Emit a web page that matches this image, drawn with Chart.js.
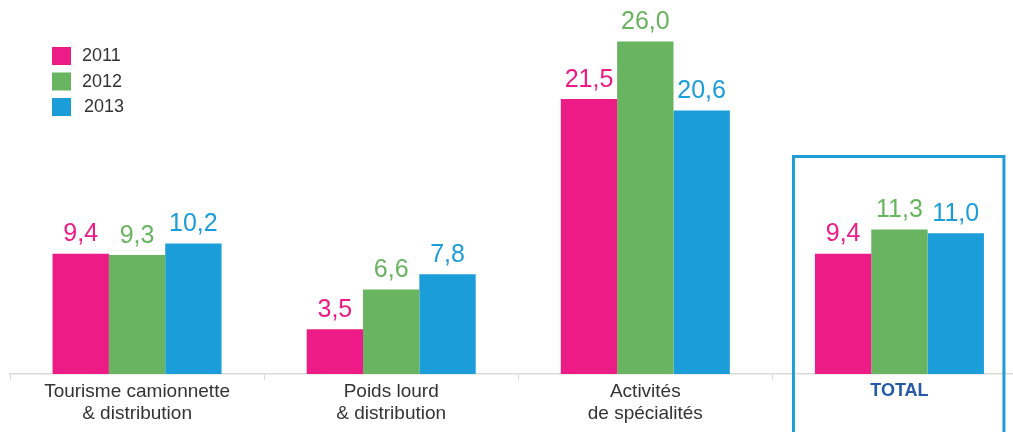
<!DOCTYPE html>
<html>
<head>
<meta charset="utf-8">
<script src="https://cdn.jsdelivr.net/npm/chart.js@4/dist/chart.umd.min.js"></script>
<style>
  html, body { margin: 0; padding: 0; background: #fff; overflow: hidden; }
  #wrap { width: 1030px; height: 432px; position: relative; }
</style>
</head>
<body>
<div id="wrap"><canvas id="chart"></canvas></div>
<script>
const categories = [
    ['Tourisme camionnette', '& distribution'],
    ['Poids lourd', '& distribution'],
    ['Activités', 'de spécialités'],
    'TOTAL'
];
const years = ['2011', '2012', '2013'];
const values2011 = [9.4, 3.5, 21.5, 9.4];
const values2012 = [9.3, 6.6, 26.0, 11.3];
const values2013 = [10.2, 7.8, 20.6, 11.0];
const colors = ['#ec1b86', '#69b460', '#1b9dd9'];

const FONT = '"Liberation Sans", Arial, sans-serif';

// valeurs au-dessus des barres, format français
const valueLabels = {
    id: 'valueLabels',
    afterDatasetsDraw(chart) {
        const c = chart.ctx;
        c.save();
        c.font = '25px ' + FONT;
        c.textAlign = 'center';
        c.textBaseline = 'alphabetic';
        chart.data.datasets.forEach((ds, i) => {
            chart.getDatasetMeta(i).data.forEach((bar, j) => {
                c.fillStyle = ds.backgroundColor;
                c.fillText(ds.data[j].toFixed(1).replace('.', ','), bar.x, bar.y - 12.5);
            });
        });
        c.restore();
    }
};

// légende en haut à gauche
const sideLegend = {
    id: 'sideLegend',
    afterDraw(chart) {
        const c = chart.ctx;
        c.save();
        c.font = '18px ' + FONT;
        c.textBaseline = 'middle';
        chart.data.datasets.forEach((ds, i) => {
            const y = 47 + i * 25.5;
            c.fillStyle = ds.backgroundColor;
            c.fillRect(52, y, 19, 18);
            c.fillStyle = '#333';
            c.fillText(ds.label, 82 + (i === 2 ? 2 : 0), y + 9.5);
        });
        c.restore();
    }
};

// cadre autour de TOTAL
const totalBox = {
    id: 'totalBox',
    afterDraw(chart) {
        const x = chart.scales.x, y = chart.scales.y;
        const cx = x.getPixelForValue(3);
        const top = y.getPixelForValue(17);
        const c = chart.ctx;
        c.save();
        c.strokeStyle = '#1e9dd8';
        c.lineWidth = 3;
        c.beginPath();
        c.moveTo(cx - 106, chart.height + 5);
        c.lineTo(cx - 106, top);
        c.lineTo(cx + 104.5, top);
        c.lineTo(cx + 104.5, chart.height + 5);
        c.stroke();
        c.restore();
    }
};

new Chart(document.getElementById('chart').getContext('2d'), {
    type: 'bar',
    data: {
        labels: categories,
        datasets: [
            { label: years[0], data: values2011, backgroundColor: colors[0] },
            { label: years[1], data: values2012, backgroundColor: colors[1] },
            { label: years[2], data: values2013, backgroundColor: colors[2] }
        ]
    },
    options: {
        responsive: true,
        maintainAspectRatio: false,
        animation: false,
        layout: { padding: { left: 10, right: 3.5, top: 16, bottom: 6.5 } },
        datasets: { bar: { barPercentage: 1, categoryPercentage: 0.665 } },
        plugins: { legend: { display: false }, tooltip: { enabled: false } },
        scales: {
            x: {
                border: { color: '#d9d9d9', width: 1.5 },
                grid: { drawOnChartArea: false, drawTicks: true, tickLength: 6, color: '#d9d9d9', offset: true },
                ticks: {
                    padding: 0,
                    maxRotation: 0,
                    color: ctx => ctx.index === 3 ? '#2459a8' : '#333',
                    font: ctx => ({
                        family: FONT,
                        size: ctx.index === 3 ? 18 : 19,
                        weight: ctx.index === 3 ? 'bold' : 'normal',
                        lineHeight: 1.2
                    })
                }
            },
            y: { display: false, min: 0, max: 28 }
        }
    },
    plugins: [valueLabels, sideLegend, totalBox]
});
</script>
</body>
</html>
